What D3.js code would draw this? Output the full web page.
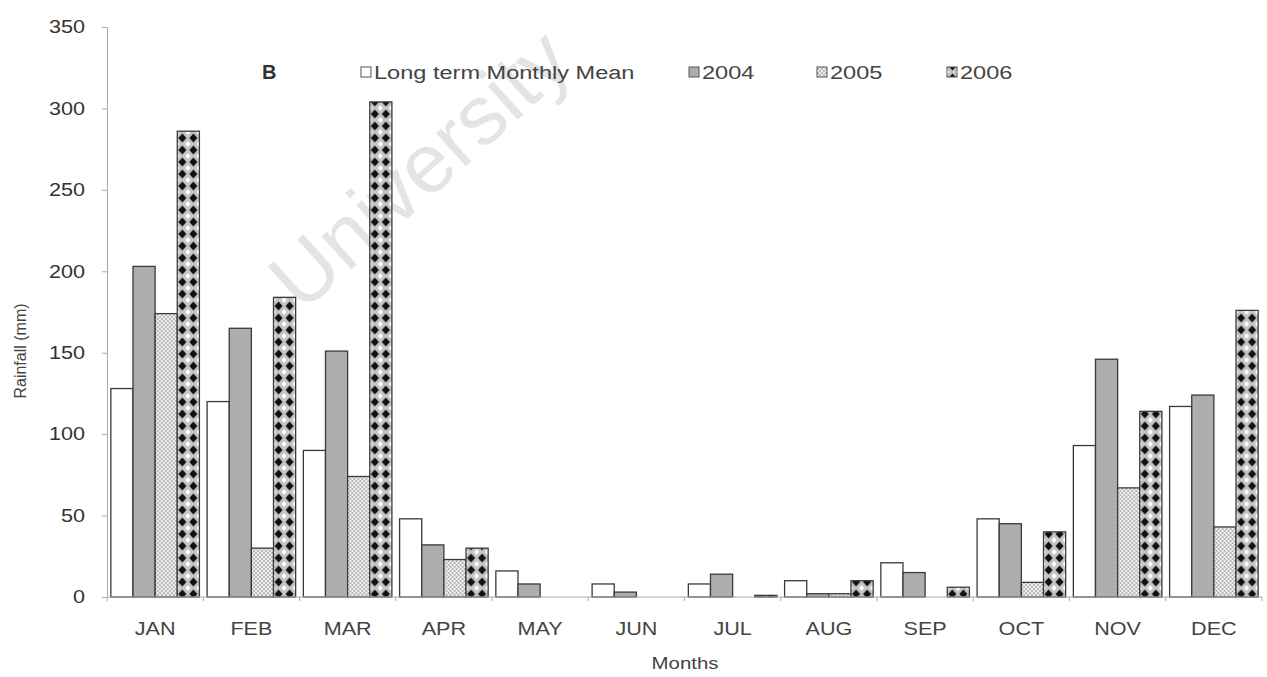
<!DOCTYPE html>
<html>
<head>
<meta charset="utf-8">
<script src="https://cdn.jsdelivr.net/npm/d3@7"></script>
<style>
  html, body { margin: 0; padding: 0; background: #fff; }
  svg { display: block; }
  text { font-family: "Liberation Sans", Arial, sans-serif; }
</style>
</head>
<body>
<svg id="chart" width="1267" height="677"></svg>
<script>
// Monthly rainfall (mm)
const months = ["JAN","FEB","MAR","APR","MAY","JUN","JUL","AUG","SEP","OCT","NOV","DEC"];
const seriesNames = ["Long term Monthly Mean","2004","2005","2006"];
const meanValues = [128, 120, 90, 48, 16, 8, 8, 10, 21, 48, 93, 117];
const values2004 = [203, 165, 151, 32, 8, 3, 14, 2, 15, 45, 146, 124];
const values2005 = [174, 30, 74, 23, 0, 0, 0, 2, 0, 9, 67, 43];
const values2006 = [286, 184, 304, 30, 0, 0, 1, 10, 6, 40, 114, 176];
const yTicks = [0, 50, 100, 150, 200, 250, 300, 350];

const seriesValues = [meanValues, values2004, values2005, values2006];

const svg = d3.select("#chart");
const plotLeft = 107, plotRight = 1262, plotTop = 27, plotBottom = 597;
const stretch = 1.2; // wide lettering used throughout the figure

// Fill patterns
const defs = svg.append("defs");

// 2005: fine dotted stipple
const p05 = defs.append("pattern").attr("id", "pat2005")
  .attr("patternUnits", "userSpaceOnUse").attr("width", 4).attr("height", 4);
p05.append("rect").attr("width", 4).attr("height", 4).attr("fill", "#f2f2f2");
p05.append("circle").attr("cx", 1).attr("cy", 1).attr("r", 0.9).attr("fill", "#9a9a9a");
p05.append("circle").attr("cx", 3).attr("cy", 3).attr("r", 0.9).attr("fill", "#9a9a9a");

// 2006: black diamonds on grey
const p06 = defs.append("pattern").attr("id", "pat2006")
  .attr("patternUnits", "userSpaceOnUse").attr("width", 11).attr("height", 12);
p06.append("rect").attr("width", 11).attr("height", 12).attr("fill", "#c4c4c4");
p06.append("path").attr("d", "M0,0 L2.5,0 L0,3 Z M11,0 L8.5,0 L11,3 Z M0,12 L2.5,12 L0,9 Z M11,12 L8.5,12 L11,9 Z").attr("fill", "#ffffff");
p06.append("path").attr("d", "M5.5,1.5 L9.5,6 L5.5,10.5 L1.5,6 Z").attr("fill", "#111");

const fills = ["#ffffff", "#adadad", "url(#pat2005)", "url(#pat2006)"];

// Scales
const x = d3.scaleBand().domain(months).range([plotLeft, plotRight])
  .paddingInner(0.08).paddingOuter(0.04);
const xs = d3.scaleBand().domain(d3.range(seriesNames.length)).range([0, x.bandwidth()]);
const y = d3.scaleLinear().domain([0, 350]).range([plotBottom, plotTop]);

// Watermark
svg.append("text")
  .attr("transform", "translate(424,174) rotate(-42)")
  .attr("text-anchor", "middle").attr("dominant-baseline", "middle")
  .attr("font-size", 84).attr("fill", "#e4e4e4")
  .text("University");

// Bars
const groups = svg.append("g").selectAll("g").data(months).join("g")
  .attr("transform", d => `translate(${x(d)},0)`);

groups.selectAll("rect")
  .data((m, i) => seriesValues.map((vals, s) => ({ s, v: vals[i] })))
  .join("rect")
  .attr("x", d => xs(d.s))
  .attr("y", d => y(d.v))
  .attr("width", xs.bandwidth())
  .attr("height", d => y(0) - y(d.v))
  .attr("fill", d => fills[d.s])
  .attr("stroke", "#3a3a3a")
  .attr("stroke-width", 1.3);

// Y axis: line and ticks from d3, labels set in wide lettering
const yAxis = svg.append("g").attr("transform", `translate(${plotLeft},0)`)
  .call(d3.axisLeft(y).tickValues(yTicks).tickSize(5).tickFormat(""));
yAxis.select(".domain").attr("stroke", "#aaa");
yAxis.selectAll(".tick line").attr("stroke", "#aaa");
svg.append("g").selectAll("text").data(yTicks).join("text")
  .attr("transform", d => `translate(85,${y(d)}) scale(${stretch},1)`)
  .attr("text-anchor", "end").attr("dy", "0.35em")
  .attr("font-size", 18).attr("fill", "#333")
  .text(d => d);

// X axis
const boundaries = d3.range(months.length + 1).map(i => plotLeft + i * x.step());
svg.append("line").attr("x1", plotLeft).attr("x2", plotRight).attr("y1", plotBottom).attr("y2", plotBottom)
  .attr("stroke", "#aaa");
svg.append("g").selectAll("line").data(boundaries).join("line")
  .attr("x1", d => d).attr("x2", d => d).attr("y1", plotBottom).attr("y2", plotBottom + 4)
  .attr("stroke", "#aaa");
svg.append("g").selectAll("text").data(months).join("text")
  .attr("transform", d => `translate(${x(d) + x.bandwidth() / 2},635) scale(${stretch},1)`)
  .attr("text-anchor", "middle").attr("font-size", 18).attr("fill", "#444")
  .text(d => d);

// Axis titles
svg.append("text").attr("transform", `translate(685,669) scale(${stretch},1)`)
  .attr("text-anchor", "middle")
  .attr("font-size", 17).attr("fill", "#444").text("Months");
svg.append("text").attr("transform", "translate(26,351) rotate(-90)")
  .attr("text-anchor", "middle").attr("font-size", 16).attr("fill", "#444")
  .text("Rainfall (mm)");

// Panel label
svg.append("text").attr("x", 262).attr("y", 79)
  .attr("font-family", "'Liberation Serif', 'Times New Roman', serif")
  .attr("font-weight", "bold").attr("font-size", 20).attr("fill", "#333").text("B");

// Legend
const legendX = [361, 689, 817, 947];
const legend = svg.append("g").selectAll("g").data(seriesNames).join("g")
  .attr("transform", (d, i) => `translate(${legendX[i]},72)`);
legend.append("rect").attr("x", 0).attr("y", -5).attr("width", 10).attr("height", 10)
  .attr("fill", (d, i) => fills[i]).attr("stroke", "#555").attr("stroke-width", 1);
legend.append("text").attr("transform", `translate(13,0) scale(1.24,1)`)
  .attr("dy", "0.35em")
  .attr("font-size", 19).attr("fill", "#444").text(d => d);
</script>
</body>
</html>
